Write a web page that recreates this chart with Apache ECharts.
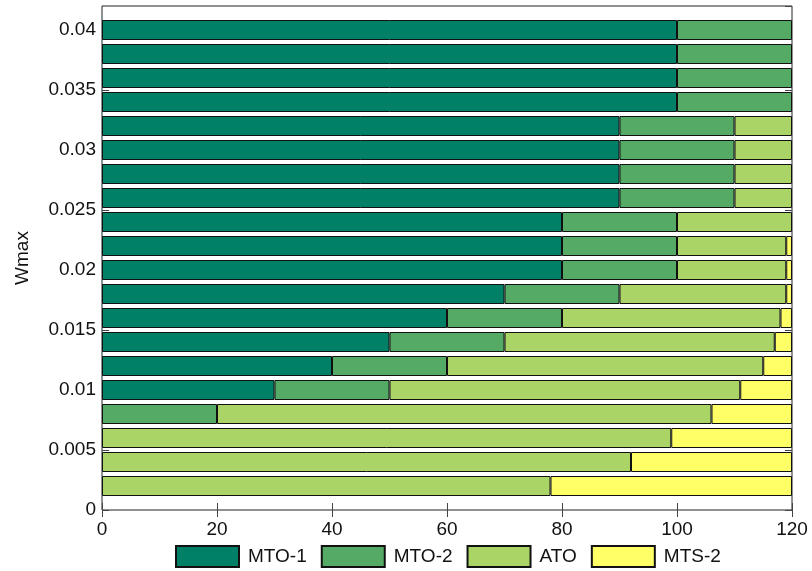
<!DOCTYPE html>
<html>
<head>
<meta charset="utf-8">
<script src="https://cdn.jsdelivr.net/npm/echarts@6/dist/echarts.min.js"></script>
<style>
  html, body { margin: 0; padding: 0; background: #fff; }
  #chart { width: 812px; height: 571px; }
</style>
</head>
<body>
<div id="chart"></div>
<script>
// Wmax levels, bottom to top
const wmax = [0.002, 0.004, 0.006, 0.008, 0.010, 0.012, 0.014, 0.016, 0.018, 0.020,
              0.022, 0.024, 0.026, 0.028, 0.030, 0.032, 0.034, 0.036, 0.038, 0.040]
const mto1 = [0, 0, 0, 0, 30, 40, 50, 60, 70, 80, 80, 80, 90, 90, 90, 90, 100, 100, 100, 100]
const mto2 = [0, 0, 0, 20, 20, 20, 20, 20, 20, 20, 20, 20, 20, 20, 20, 20, 20, 20, 20, 20]
const ato  = [78, 92, 99, 86, 61, 55, 47, 38, 29, 19, 19, 20, 10, 10, 10, 10, 0, 0, 0, 0]
const mts2 = [42, 28, 21, 14, 9, 5, 3, 2, 1, 1, 1, 0, 0, 0, 0, 0, 0, 0, 0, 0]
const xTicks = [0, 20, 40, 60, 80, 100, 120]
const yTicks = [0, 0.005, 0.01, 0.015, 0.02, 0.025, 0.03, 0.035, 0.04]

const names = ['MTO-1', 'MTO-2', 'ATO', 'MTS-2']
const colors = ['#008066', '#55aa66', '#aad466', '#ffff66']
const seriesData = [mto1, mto2, ato, mts2]

// category slots: 0 and 0.042 are empty ends so ticks line up with the value axis
const cats = ['0'].concat(wmax.map(String)).concat(['0.042'])

const font = 'Liberation Sans, Arial, Helvetica, sans-serif'

var dom = document.getElementById('chart')
var myChart = echarts.init(dom, null, { renderer: 'canvas' })

var option = {
  animation: false,
  textStyle: { fontFamily: font },
  grid: {
    left: 102, right: 20, top: 6, bottom: 61,
    show: true, borderColor: '#222', borderWidth: 1
  },
  legend: {
    data: names,
    icon: 'rect',
    left: 170, top: 540,
    itemWidth: 63, itemHeight: 21, itemGap: 14,
    textStyle: { fontFamily: font, fontSize: 19, color: '#111', padding: [0, 0, 0, 4] }
  },
  xAxis: [{
    type: 'value', min: xTicks[0], max: xTicks[xTicks.length - 1], interval: 20,
    position: 'bottom',
    axisLine: { show: false },
    axisTick: { show: true, inside: true, length: 7, lineStyle: { color: '#444' } },
    splitLine: { show: false },
    axisLabel: { fontFamily: font, fontSize: 19, color: '#111', margin: 10 }
  }, {
    type: 'value', min: xTicks[0], max: xTicks[xTicks.length - 1], interval: 20,
    position: 'top',
    axisLine: { show: false },
    axisTick: { show: true, inside: true, length: 7, lineStyle: { color: '#444' } },
    splitLine: { show: false },
    axisLabel: { show: false }
  }],
  yAxis: [{
    type: 'category', data: cats, boundaryGap: false, show: false
  }, {
    type: 'value', min: yTicks[0], max: 0.042, interval: 0.005,
    position: 'left',
    name: 'Wmax', nameLocation: 'middle', nameGap: 70, nameRotate: 90,
    nameTextStyle: { fontFamily: font, fontSize: 19, color: '#111' },
    axisLine: { show: false },
    axisTick: { show: true, inside: true, length: 7, lineStyle: { color: '#444' } },
    splitLine: { show: false },
    axisLabel: {
      fontFamily: font, fontSize: 19, color: '#111', margin: 6, showMaxLabel: false,
      formatter: v => (yTicks.some(t => Math.abs(t - v) < 1e-9) ? String(+v.toFixed(3)) : '')
    }
  }, {
    type: 'value', min: yTicks[0], max: 0.042, interval: 0.005,
    position: 'right',
    axisLine: { show: false },
    axisTick: { show: true, inside: true, length: 7, lineStyle: { color: '#444' } },
    splitLine: { show: false },
    axisLabel: { show: false }
  }],
  series: names.map((n, i) => ({
    name: n,
    type: 'bar',
    stack: 'total',
    xAxisIndex: 0,
    yAxisIndex: 0,
    barWidth: 20,
    itemStyle: { color: colors[i], borderColor: '#111', borderWidth: 1 },
    data: [null].concat(seriesData[i].map(v => (v === 0 ? null : v))).concat([null])
  }))
}

myChart.setOption(option, true)
</script>
</body>
</html>
